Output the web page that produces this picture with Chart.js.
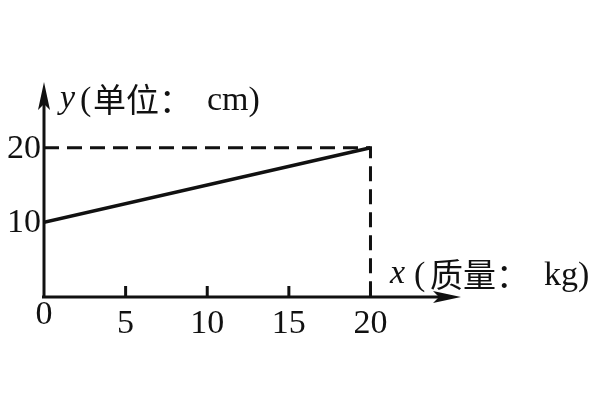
<!DOCTYPE html>
<html>
<head>
<meta charset="utf-8">
<script src="https://cdn.jsdelivr.net/npm/chart.js@4"></script>
<style>
html,body{margin:0;padding:0;background:#fff}
#box{width:600px;height:400px}
</style>
</head>
<body>
<div id="box"><canvas id="myChart"></canvas></div>
<script>
// 数据
const lineX = [0, 20]
const lineY = [10, 20]
const guideX = [0, 20, 20]
const guideY = [20, 20, 0]
const xTicks = [0, 5, 10, 15, 20]
const yTicks = [10, 20]
const xName = "x"
const xUnit = ["(", "质量：", "kg)"]
const yName = "y"
const yUnit = ["(", "单位：", "cm)"]

const serif = '"Liberation Serif","DejaVu Serif",serif'
const cjk = '"Noto Sans CJK SC",sans-serif'

// 一段一段写轴名
function drawName(ctx, name, unit, xs, base) {
    ctx.font = "italic 34px " + serif
    ctx.fillText(name, xs[0], base - 2)
    ctx.font = "34px " + serif
    ctx.fillText(unit[0], xs[1], base)
    ctx.font = "33px " + cjk
    ctx.fillText(unit[1], xs[2], base + 2)
    ctx.font = "34px " + serif
    ctx.fillText(unit[2], xs[3], base)
}

// 画坐标轴、箭头、刻度和文字
const axisPlugin = {
    id: "axisPlugin",
    afterDatasetsDraw(chart) {
        const ctx = chart.ctx
        const xs = chart.scales.x
        const ys = chart.scales.y
        const ox = xs.getPixelForValue(0)
        const oy = ys.getPixelForValue(0)
        ctx.save()
        ctx.strokeStyle = "#111"
        ctx.fillStyle = "#111"
        ctx.lineWidth = 3
        // x轴
        ctx.beginPath()
        ctx.moveTo(ox - 2, oy)
        ctx.lineTo(xs.right - 10, oy)
        ctx.stroke()
        ctx.beginPath()
        ctx.moveTo(xs.right + 4, oy)
        ctx.lineTo(xs.right - 24, oy - 6)
        ctx.lineTo(xs.right - 18, oy)
        ctx.lineTo(xs.right - 24, oy + 6)
        ctx.closePath()
        ctx.fill()
        // y轴
        ctx.beginPath()
        ctx.moveTo(ox, oy + 1)
        ctx.lineTo(ox, ys.top + 10)
        ctx.stroke()
        ctx.beginPath()
        ctx.moveTo(ox, ys.top - 6)
        ctx.lineTo(ox - 6, ys.top + 22)
        ctx.lineTo(ox, ys.top + 16)
        ctx.lineTo(ox + 6, ys.top + 22)
        ctx.closePath()
        ctx.fill()
        // 刻度
        ctx.font = "34px " + serif
        ctx.textAlign = "center"
        ctx.textBaseline = "top"
        xTicks.forEach(function (v) {
            const px = xs.getPixelForValue(v)
            if (v != 0) {
                ctx.beginPath()
                ctx.moveTo(px, oy)
                ctx.lineTo(px, oy - 11)
                ctx.stroke()
            }
            ctx.fillText(String(v), px, v == 0 ? oy + 1 : oy + 10)
        })
        ctx.textAlign = "right"
        ctx.textBaseline = "middle"
        yTicks.forEach(function (v) {
            ctx.fillText(String(v), ox - 3, ys.getPixelForValue(v) + 1)
        })
        // 轴名
        ctx.textAlign = "left"
        ctx.textBaseline = "alphabetic"
        drawName(ctx, yName, yUnit, [60, 80, 93, 207], 110)
        drawName(ctx, xName, xUnit, [390, 414, 430, 544], 285)
        ctx.restore()
    }
}

const ctx = document.getElementById("myChart").getContext("2d")
const myChart = new Chart(ctx, {
    type: "scatter",
    data: {
        datasets: [{
            data: lineX.map((x, i) => ({ x: x, y: lineY[i] })),
            showLine: true,
            borderColor: "#111",
            borderWidth: 3.5,
            pointRadius: 0
        }, {
            data: guideX.map((x, i) => ({ x: x, y: guideY[i] })),
            showLine: true,
            borderColor: "#111",
            borderWidth: 3,
            borderDash: [15, 8],
            pointRadius: 0
        }]
    },
    options: {
        responsive: true,
        maintainAspectRatio: false,
        animation: false,
        layout: { padding: { left: 44, right: 143, top: 88, bottom: 103 } },
        plugins: { legend: { display: false }, tooltip: { enabled: false } },
        scales: {
            x: { type: "linear", min: 0, max: 25.3, display: false },
            y: { type: "linear", min: 0, max: 28, display: false }
        }
    },
    plugins: [axisPlugin]
})
</script>
</body>
</html>
